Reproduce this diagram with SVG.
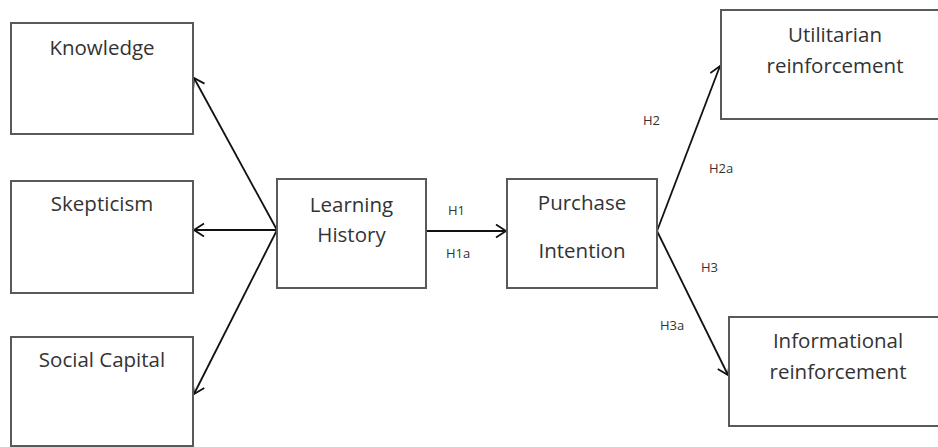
<svg xmlns="http://www.w3.org/2000/svg" width="938" height="447" viewBox="0 0 938 447">
<style>
.box{fill:#fff;stroke:#595959;stroke-width:2}
.t{font-family:"Open Sans","Liberation Sans",sans-serif;font-size:20.5px;fill:#333;text-anchor:middle}
.l{font-family:"Open Sans","Liberation Sans",sans-serif;font-size:13px;fill:#333}
.c{stroke:#111;stroke-width:1.8;fill:none;marker-end:url(#arr)}
</style>
<defs>
<marker id="arr" markerUnits="userSpaceOnUse" markerWidth="14" markerHeight="16" refX="11" refY="7" orient="auto">
<path d="M1,0.5 L11,7 L1,13.5" fill="none" stroke="#111" stroke-width="1.8"/>
</marker>
</defs>
<rect width="938" height="447" fill="#fff"/>
<g id="connectors">
<line class="c" x1="277" y1="230" x2="194" y2="78"/>
<line class="c" x1="277" y1="230" x2="194" y2="230"/>
<line class="c" x1="277" y1="230" x2="194" y2="394"/>
<line class="c" x1="426" y1="231" x2="506" y2="231"/>
<line class="c" x1="657" y1="231" x2="720" y2="66"/>
<line class="c" x1="657" y1="231" x2="728" y2="375"/>
<text class="l" x="448" y="215">H1</text>
<text class="l" x="446" y="258">H1a</text>
<text class="l" x="643" y="125">H2</text>
<text class="l" x="709" y="173">H2a</text>
<text class="l" x="701" y="272">H3</text>
<text class="l" x="660" y="330">H3a</text>
</g>
<g id="knowledge"><rect class="box" x="11" y="23" width="182" height="111"/><text class="t" x="102" y="55">Knowledge</text></g>
<g id="skepticism"><rect class="box" x="11" y="181" width="182" height="112"/><text class="t" x="102" y="211">Skepticism</text></g>
<g id="social-capital"><rect class="box" x="11" y="337" width="182" height="109"/><text class="t" x="102" y="367">Social Capital</text></g>
<g id="learning-history"><rect class="box" x="277" y="179" width="149" height="109"/><text class="t" x="351.5" y="212">Learning</text><text class="t" x="351.5" y="242">History</text></g>
<g id="purchase-intention"><rect class="box" x="507" y="179" width="150" height="109"/><text class="t" x="582" y="210">Purchase</text><text class="t" x="582" y="258">Intention</text></g>
<g id="utilitarian"><rect class="box" x="721" y="10" width="230" height="109"/><text class="t" x="835" y="42">Utilitarian</text><text class="t" x="835" y="73">reinforcement</text></g>
<g id="informational"><rect class="box" x="729" y="317" width="230" height="109"/><text class="t" x="838" y="348">Informational</text><text class="t" x="838" y="379">reinforcement</text></g>
</svg>
